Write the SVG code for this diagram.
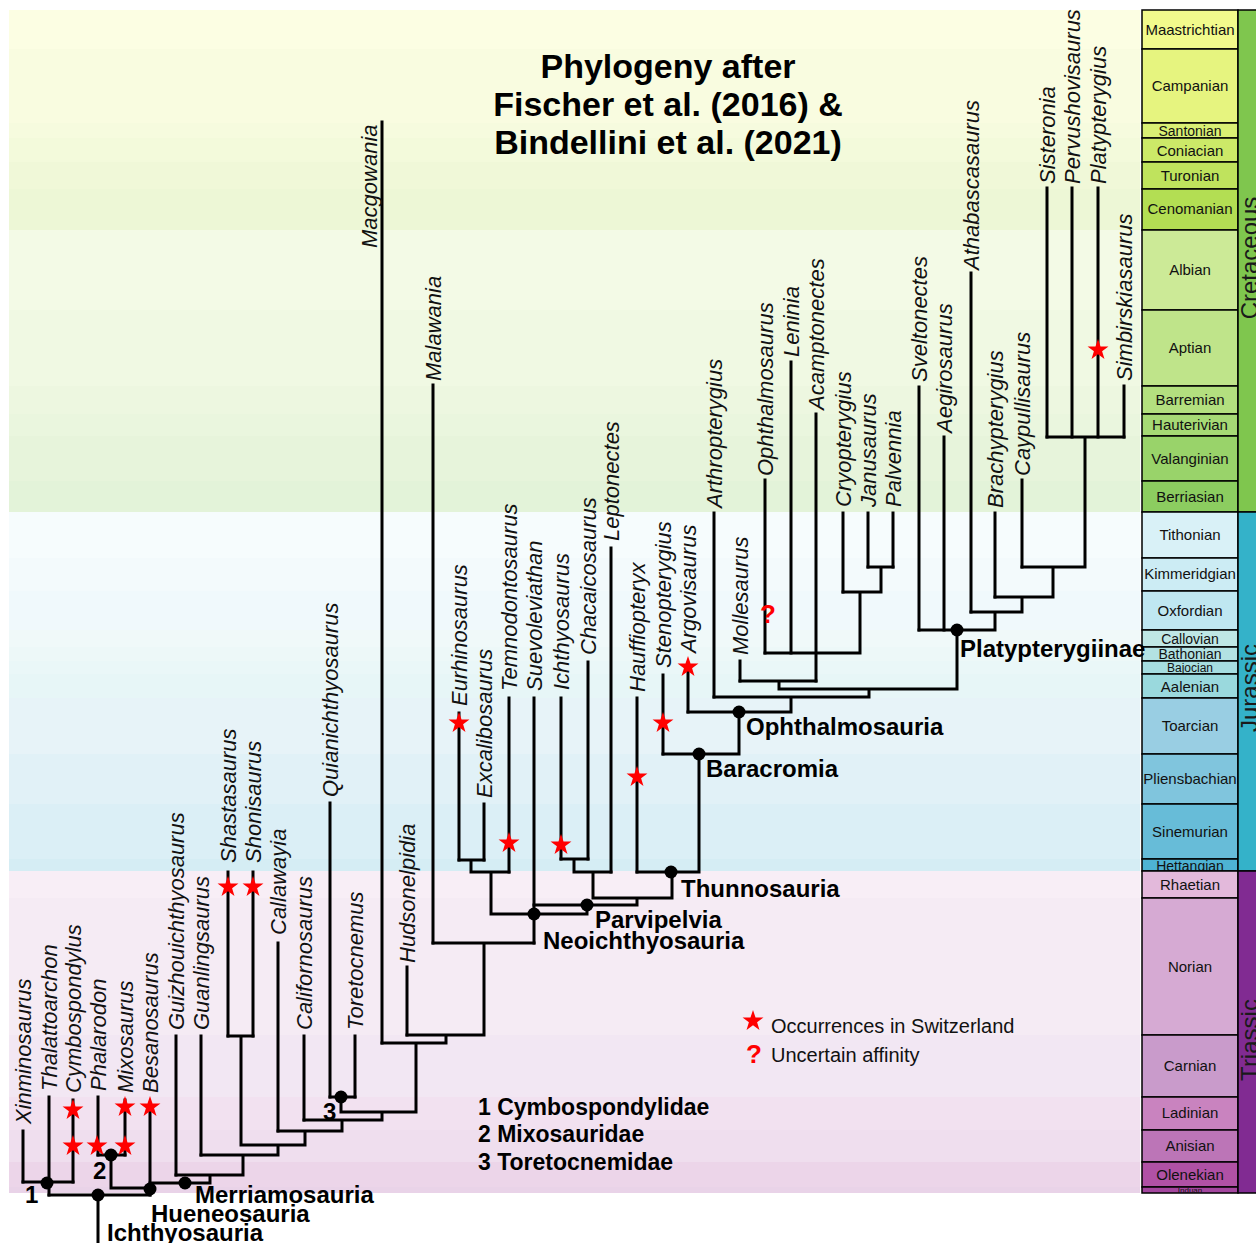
<svg xmlns="http://www.w3.org/2000/svg" width="1256" height="1243" viewBox="0 0 1256 1243">
<style>
.bg{opacity:0.24}
.sb{stroke:#000;stroke-width:1.5}
.sl{font-family:"Liberation Sans",Arial,sans-serif;font-size:15px;text-anchor:middle;fill:#111}
.pl{font-family:"Liberation Sans",Arial,sans-serif;font-size:24px;text-anchor:middle;fill:#1a1a1a}
.ln{fill:none;stroke:#000;stroke-width:3;stroke-linecap:square;stroke-linejoin:miter}
.tx{font-family:"Liberation Sans",Arial,sans-serif;font-style:italic;font-size:22px;fill:#111}
.cl{font-family:"Liberation Sans",Arial,sans-serif;font-weight:bold;font-size:24px;fill:#000}
.ti{font-family:"Liberation Sans",Arial,sans-serif;font-weight:bold;font-size:34px;fill:#000;text-anchor:middle}
.lg{font-family:"Liberation Sans",Arial,sans-serif;font-size:20px;fill:#111}
.fam{font-family:"Liberation Sans",Arial,sans-serif;font-weight:bold;font-size:23px;fill:#000}
.q{font-family:"Liberation Sans",Arial,sans-serif;font-weight:bold;font-size:26px;fill:#f00}
.star{fill:#f00}
.dot{fill:#000}
</style>
<defs>
<path id="st" d="M0,-11 L2.53,-3.48 L10.46,-3.4 L4.09,1.33 L6.47,8.9 L0,4.3 L-6.47,8.9 L-4.09,1.33 L-10.46,-3.4 L-2.53,-3.48 Z"/>
</defs>
<rect width="1256" height="1243" fill="#fff"/>
<g id="background">
<rect class="bg" x="9" y="10" width="1131" height="39" fill="#F2FA8C"/>
<rect class="bg" x="9" y="49" width="1131" height="74" fill="#E6F47F"/>
<rect class="bg" x="9" y="123" width="1131" height="15" fill="#D9EF74"/>
<rect class="bg" x="9" y="138" width="1131" height="24" fill="#CCE968"/>
<rect class="bg" x="9" y="162" width="1131" height="27" fill="#BFE35D"/>
<rect class="bg" x="9" y="189" width="1131" height="41" fill="#B3DE53"/>
<rect class="bg" x="9" y="230" width="1131" height="80" fill="#CCEA97"/>
<rect class="bg" x="9" y="310" width="1131" height="76" fill="#BFE48A"/>
<rect class="bg" x="9" y="386" width="1131" height="28" fill="#B3DF7F"/>
<rect class="bg" x="9" y="414" width="1131" height="22" fill="#A6D975"/>
<rect class="bg" x="9" y="436" width="1131" height="45" fill="#99D36A"/>
<rect class="bg" x="9" y="481" width="1131" height="31" fill="#8CCD60"/>
<rect class="bg" x="9" y="512" width="1131" height="46" fill="#D9F1F7"/>
<rect class="bg" x="9" y="558" width="1131" height="33" fill="#CCECF4"/>
<rect class="bg" x="9" y="591" width="1131" height="39" fill="#BFE7F1"/>
<rect class="bg" x="9" y="630" width="1131" height="17" fill="#BFE7E5"/>
<rect class="bg" x="9" y="647" width="1131" height="14" fill="#B3E2E3"/>
<rect class="bg" x="9" y="661" width="1131" height="13" fill="#A6DDE0"/>
<rect class="bg" x="9" y="674" width="1131" height="24" fill="#9AD9DD"/>
<rect class="bg" x="9" y="698" width="1131" height="56" fill="#99CEE3"/>
<rect class="bg" x="9" y="754" width="1131" height="50" fill="#80C5DD"/>
<rect class="bg" x="9" y="804" width="1131" height="55" fill="#67BCD8"/>
<rect class="bg" x="9" y="859" width="1131" height="12" fill="#4EB3D3"/>
<rect class="bg" x="9" y="871" width="1131" height="27" fill="#E3B9DB"/>
<rect class="bg" x="9" y="898" width="1131" height="137" fill="#D6AAD3"/>
<rect class="bg" x="9" y="1035" width="1131" height="62" fill="#C99BCB"/>
<rect class="bg" x="9" y="1097" width="1131" height="33" fill="#C983BF"/>
<rect class="bg" x="9" y="1130" width="1131" height="32" fill="#BC75B7"/>
<rect class="bg" x="9" y="1162" width="1131" height="25" fill="#B051A5"/>
<rect class="bg" x="9" y="1187" width="1131" height="6" fill="#A4469F"/>
</g>
<g id="timescale">
<rect class="sb" x="1142" y="10" width="96" height="39" fill="#F2FA8C"/><text class="sl" x="1190" y="35">Maastrichtian</text>
<rect class="sb" x="1142" y="49" width="96" height="74" fill="#E6F47F"/><text class="sl" x="1190" y="91">Campanian</text>
<rect class="sb" x="1142" y="123" width="96" height="15" fill="#D9EF74"/><text class="sl" x="1190" y="136" style="font-size:14px">Santonian</text>
<rect class="sb" x="1142" y="138" width="96" height="24" fill="#CCE968"/><text class="sl" x="1190" y="156">Coniacian</text>
<rect class="sb" x="1142" y="162" width="96" height="27" fill="#BFE35D"/><text class="sl" x="1190" y="181">Turonian</text>
<rect class="sb" x="1142" y="189" width="96" height="41" fill="#B3DE53"/><text class="sl" x="1190" y="214">Cenomanian</text>
<rect class="sb" x="1142" y="230" width="96" height="80" fill="#CCEA97"/><text class="sl" x="1190" y="275">Albian</text>
<rect class="sb" x="1142" y="310" width="96" height="76" fill="#BFE48A"/><text class="sl" x="1190" y="353">Aptian</text>
<rect class="sb" x="1142" y="386" width="96" height="28" fill="#B3DF7F"/><text class="sl" x="1190" y="405">Barremian</text>
<rect class="sb" x="1142" y="414" width="96" height="22" fill="#A6D975"/><text class="sl" x="1190" y="430">Hauterivian</text>
<rect class="sb" x="1142" y="436" width="96" height="45" fill="#99D36A"/><text class="sl" x="1190" y="464">Valanginian</text>
<rect class="sb" x="1142" y="481" width="96" height="31" fill="#8CCD60"/><text class="sl" x="1190" y="502">Berriasian</text>
<rect class="sb" x="1142" y="512" width="96" height="46" fill="#D9F1F7"/><text class="sl" x="1190" y="540">Tithonian</text>
<rect class="sb" x="1142" y="558" width="96" height="33" fill="#CCECF4"/><text class="sl" x="1190" y="579">Kimmeridgian</text>
<rect class="sb" x="1142" y="591" width="96" height="39" fill="#BFE7F1"/><text class="sl" x="1190" y="616">Oxfordian</text>
<rect class="sb" x="1142" y="630" width="96" height="17" fill="#BFE7E5"/><text class="sl" x="1190" y="644" style="font-size:14px">Callovian</text>
<rect class="sb" x="1142" y="647" width="96" height="14" fill="#B3E2E3"/><text class="sl" x="1190" y="659" style="font-size:14px">Bathonian</text>
<rect class="sb" x="1142" y="661" width="96" height="13" fill="#A6DDE0"/><text class="sl" x="1190" y="672" style="font-size:12px">Bajocian</text>
<rect class="sb" x="1142" y="674" width="96" height="24" fill="#9AD9DD"/><text class="sl" x="1190" y="692">Aalenian</text>
<rect class="sb" x="1142" y="698" width="96" height="56" fill="#99CEE3"/><text class="sl" x="1190" y="731">Toarcian</text>
<rect class="sb" x="1142" y="754" width="96" height="50" fill="#80C5DD"/><text class="sl" x="1190" y="784">Pliensbachian</text>
<rect class="sb" x="1142" y="804" width="96" height="55" fill="#67BCD8"/><text class="sl" x="1190" y="837">Sinemurian</text>
<rect class="sb" x="1142" y="859" width="96" height="12" fill="#4EB3D3"/><text class="sl" x="1190" y="871" style="font-size:14px">Hettangian</text>
<rect class="sb" x="1142" y="871" width="96" height="27" fill="#E3B9DB"/><text class="sl" x="1190" y="890">Rhaetian</text>
<rect class="sb" x="1142" y="898" width="96" height="137" fill="#D6AAD3"/><text class="sl" x="1190" y="972">Norian</text>
<rect class="sb" x="1142" y="1035" width="96" height="62" fill="#C99BCB"/><text class="sl" x="1190" y="1071">Carnian</text>
<rect class="sb" x="1142" y="1097" width="96" height="33" fill="#C983BF"/><text class="sl" x="1190" y="1118">Ladinian</text>
<rect class="sb" x="1142" y="1130" width="96" height="32" fill="#BC75B7"/><text class="sl" x="1190" y="1151">Anisian</text>
<rect class="sb" x="1142" y="1162" width="96" height="25" fill="#B051A5"/><text class="sl" x="1190" y="1180">Olenekian</text>
<rect class="sb" x="1142" y="1187" width="96" height="6" fill="#A4469F"/><text class="sl" x="1190" y="1193" style="font-size:8px">Induan</text>
<rect class="sb" x="1238" y="10" width="22" height="502" fill="#7FC64E"/>
<rect class="sb" x="1238" y="512" width="22" height="359" fill="#34B2C9"/>
<rect class="sb" x="1238" y="871" width="22" height="322" fill="#812B92"/>
<text class="pl" transform="translate(1258,258) rotate(-90)">Cretaceous</text>
<text class="pl" transform="translate(1258,688) rotate(-90)">Jurassic</text>
<text class="pl" transform="translate(1258,1040) rotate(-90)">Triassic</text>
</g>
<g id="title">
<text class="ti" x="668" y="78">Phylogeny after</text>
<text class="ti" x="668" y="116">Fischer et al. (2016) &amp;</text>
<text class="ti" x="668" y="154">Bindellini et al. (2021)</text>
</g>
<g id="connectors">
<path class="ln" d="M23 1131V1182M49 1097V1195M73 1100V1182M98 1097V1155M125 1100V1155M150 1105V1195M176 1036V1175M201 1036V1155M228 872V1036M253 872V1036M278 943V1131M304 1036V1120M330 803V1097M355 1036V1097M382 122V1043M407 967V1035M433 385V943M459 713V860M484 804V860M509 698V872M534 698V943M561 698V859M588 662V859M611 548V872M637 698V872M663 675V754M688 667V712M714 513V697M740 661V681M765 480V653M791 362V653M816 414V681M843 513V592M868 513V567M893 513V567M919 387V630M944 437V630M971 273V612M995 513V597M1022 480V567M1047 188V437M1072 188V437M1098 188V437M1124 386V437"/>
<path class="ln" d="M23 1182H73M49 1195H150M98 1195V1243M98 1155H125M111 1155V1188H150M150 1183H210V1175M176 1175H243V1155M201 1155H278V1145M228 1036H253M241 1036V1145H305V1131M278 1131H342V1120M304 1120H382V1112M330 1097H355M341 1097V1112H416V1043M382 1043H446V1035M407 1035H484V943M433 943H534M459 860H484M471 860V872H509M491 872V914H587V905M534 905H637V898M561 859H588M574 859V872H611M593 872V898H672V872M637 872H699V754M663 754H739V712M688 712H791V697M714 697H869V689M779 689H957V630M779 689V681M740 681H816M765 653H860V592M843 592H881V567M868 567H893M919 630H995V612M971 612H1022V597M995 597H1053V567M1022 567H1085V437M1047 437H1124"/>
</g>
<g id="tips">
<g id="n-xinminosaurus"><text class="tx" transform="translate(31,1124) rotate(-90)">Xinminosaurus</text></g>
<g id="n-thalattoarchon"><text class="tx" transform="translate(57,1091) rotate(-90)">Thalattoarchon</text></g>
<g id="n-cymbospondylus"><text class="tx" transform="translate(81,1093) rotate(-90)">Cymbospondylus</text><use href="#st" class="star" x="73" y="1110"/><use href="#st" class="star" x="73" y="1146"/></g>
<g id="n-phalarodon"><text class="tx" transform="translate(106,1091) rotate(-90)">Phalarodon</text><use href="#st" class="star" x="97" y="1146"/></g>
<g id="n-mixosaurus"><text class="tx" transform="translate(133,1093) rotate(-90)">Mixosaurus</text><use href="#st" class="star" x="125" y="1107"/><use href="#st" class="star" x="125" y="1146"/></g>
<g id="n-besanosaurus"><text class="tx" transform="translate(158,1093) rotate(-90)">Besanosaurus</text><use href="#st" class="star" x="150" y="1107"/></g>
<g id="n-guizhouichthyosaurus"><text class="tx" transform="translate(184,1030) rotate(-90)">Guizhouichthyosaurus</text></g>
<g id="n-guanlingsaurus"><text class="tx" transform="translate(209,1030) rotate(-90)">Guanlingsaurus</text></g>
<g id="n-shastasaurus"><text class="tx" transform="translate(236,863) rotate(-90)">Shastasaurus</text><use href="#st" class="star" x="228" y="887"/></g>
<g id="n-shonisaurus"><text class="tx" transform="translate(261,863) rotate(-90)">Shonisaurus</text><use href="#st" class="star" x="253" y="887"/></g>
<g id="n-callawayia"><text class="tx" transform="translate(286,935) rotate(-90)">Callawayia</text></g>
<g id="n-californosaurus"><text class="tx" transform="translate(312,1030) rotate(-90)">Californosaurus</text></g>
<g id="n-quianichthyosaurus"><text class="tx" transform="translate(338,797) rotate(-90)">Quianichthyosaurus</text></g>
<g id="n-toretocnemus"><text class="tx" transform="translate(363,1030) rotate(-90)">Toretocnemus</text></g>
<g id="n-macgowania"><text class="tx" transform="translate(377,248) rotate(-90)">Macgowania</text></g>
<g id="n-hudsonelpidia"><text class="tx" transform="translate(415,963) rotate(-90)">Hudsonelpidia</text></g>
<g id="n-malawania"><text class="tx" transform="translate(441,381) rotate(-90)">Malawania</text></g>
<g id="n-eurhinosaurus"><text class="tx" transform="translate(467,706) rotate(-90)">Eurhinosaurus</text><use href="#st" class="star" x="459" y="723"/></g>
<g id="n-excalibosaurus"><text class="tx" transform="translate(492,798) rotate(-90)">Excalibosaurus</text></g>
<g id="n-temnodontosaurus"><text class="tx" transform="translate(517,691) rotate(-90)">Temnodontosaurus</text><use href="#st" class="star" x="509" y="843"/></g>
<g id="n-suevoleviathan"><text class="tx" transform="translate(542,691) rotate(-90)">Suevoleviathan</text></g>
<g id="n-ichthyosaurus"><text class="tx" transform="translate(569,690) rotate(-90)">Ichthyosaurus</text><use href="#st" class="star" x="561" y="845"/></g>
<g id="n-chacaicosaurus"><text class="tx" transform="translate(596,655) rotate(-90)">Chacaicosaurus</text></g>
<g id="n-leptonectes"><text class="tx" transform="translate(619,541) rotate(-90)">Leptonectes</text></g>
<g id="n-hauffiopteryx"><text class="tx" transform="translate(645,692) rotate(-90)">Hauffiopteryx</text><use href="#st" class="star" x="637" y="777"/></g>
<g id="n-stenopterygius"><text class="tx" transform="translate(671,668) rotate(-90)">Stenopterygius</text><use href="#st" class="star" x="663" y="723"/></g>
<g id="n-argovisaurus"><text class="tx" transform="translate(696,653) rotate(-90)">Argovisaurus</text><use href="#st" class="star" x="688" y="667"/></g>
<g id="n-arthropterygius"><text class="tx" transform="translate(722,508) rotate(-90)">Arthropterygius</text></g>
<g id="n-mollesaurus"><text class="tx" transform="translate(748,655) rotate(-90)">Mollesaurus</text></g>
<g id="n-ophthalmosaurus"><text class="tx" transform="translate(773,476) rotate(-90)">Ophthalmosaurus</text><text class="q" x="760" y="623">?</text></g>
<g id="n-leninia"><text class="tx" transform="translate(799,357) rotate(-90)">Leninia</text></g>
<g id="n-acamptonectes"><text class="tx" transform="translate(824,410) rotate(-90)">Acamptonectes</text></g>
<g id="n-cryopterygius"><text class="tx" transform="translate(851,507) rotate(-90)">Cryopterygius</text></g>
<g id="n-janusaurus"><text class="tx" transform="translate(876,507) rotate(-90)">Janusaurus</text></g>
<g id="n-palvennia"><text class="tx" transform="translate(901,507) rotate(-90)">Palvennia</text></g>
<g id="n-sveltonectes"><text class="tx" transform="translate(927,382) rotate(-90)">Sveltonectes</text></g>
<g id="n-aegirosaurus"><text class="tx" transform="translate(952,433) rotate(-90)">Aegirosaurus</text></g>
<g id="n-athabascasaurus"><text class="tx" transform="translate(979,270) rotate(-90)">Athabascasaurus</text></g>
<g id="n-brachypterygius"><text class="tx" transform="translate(1003,508) rotate(-90)">Brachypterygius</text></g>
<g id="n-caypullisaurus"><text class="tx" transform="translate(1030,476) rotate(-90)">Caypullisaurus</text></g>
<g id="n-sisteronia"><text class="tx" transform="translate(1055,184) rotate(-90)">Sisteronia</text></g>
<g id="n-pervushovisaurus"><text class="tx" transform="translate(1080,184) rotate(-90)">Pervushovisaurus</text></g>
<g id="n-platypterygius"><text class="tx" transform="translate(1106,184) rotate(-90)">Platypterygius</text><use href="#st" class="star" x="1098" y="350"/></g>
<g id="n-simbirskiasaurus"><text class="tx" transform="translate(1132,381) rotate(-90)">Simbirskiasaurus</text></g>
</g>
<g id="clades">
<g id="c-cymbospondylidae"><circle class="dot" cx="47" cy="1183" r="6.5"/><text class="cl" x="25" y="1203">1</text></g>
<g id="c-ichthyosauria"><circle class="dot" cx="98" cy="1195" r="6.5"/><text class="cl" x="107" y="1241">Ichthyosauria</text></g>
<g id="c-mixosauridae"><circle class="dot" cx="111" cy="1155" r="6.5"/><text class="cl" x="93" y="1179">2</text></g>
<g id="c-hueneosauria"><circle class="dot" cx="150" cy="1189" r="6.5"/><text class="cl" x="151" y="1222">Hueneosauria</text></g>
<g id="c-merriamosauria"><circle class="dot" cx="185" cy="1183" r="6.5"/><text class="cl" x="195" y="1203">Merriamosauria</text></g>
<g id="c-toretocnemidae"><circle class="dot" cx="341" cy="1097" r="6.5"/><text class="cl" x="323" y="1120">3</text></g>
<g id="c-neoichthyosauria"><circle class="dot" cx="534" cy="914" r="6.5"/><text class="cl" x="543" y="949">Neoichthyosauria</text></g>
<g id="c-parvipelvia"><circle class="dot" cx="587" cy="905" r="6.5"/><text class="cl" x="595" y="928">Parvipelvia</text></g>
<g id="c-thunnosauria"><circle class="dot" cx="671" cy="872" r="6.5"/><text class="cl" x="681" y="897">Thunnosauria</text></g>
<g id="c-baracromia"><circle class="dot" cx="699" cy="754" r="6.5"/><text class="cl" x="706" y="777">Baracromia</text></g>
<g id="c-ophthalmosauria"><circle class="dot" cx="739" cy="712" r="6.5"/><text class="cl" x="746" y="735">Ophthalmosauria</text></g>
<g id="c-platypterygiinae"><circle class="dot" cx="957" cy="630" r="6.5"/><text class="cl" x="960" y="657">Platypterygiinae</text></g>
</g>
<g id="legend">
<use href="#st" class="star" x="753" y="1021"/>
<text class="lg" x="771" y="1033">Occurrences in Switzerland</text>
<text class="q" x="746" y="1063">?</text>
<text class="lg" x="771" y="1062">Uncertain affinity</text>
<text class="fam" x="478" y="1115">1 Cymbospondylidae</text>
<text class="fam" x="478" y="1142">2 Mixosauridae</text>
<text class="fam" x="478" y="1170">3 Toretocnemidae</text>
</g>
</svg>
